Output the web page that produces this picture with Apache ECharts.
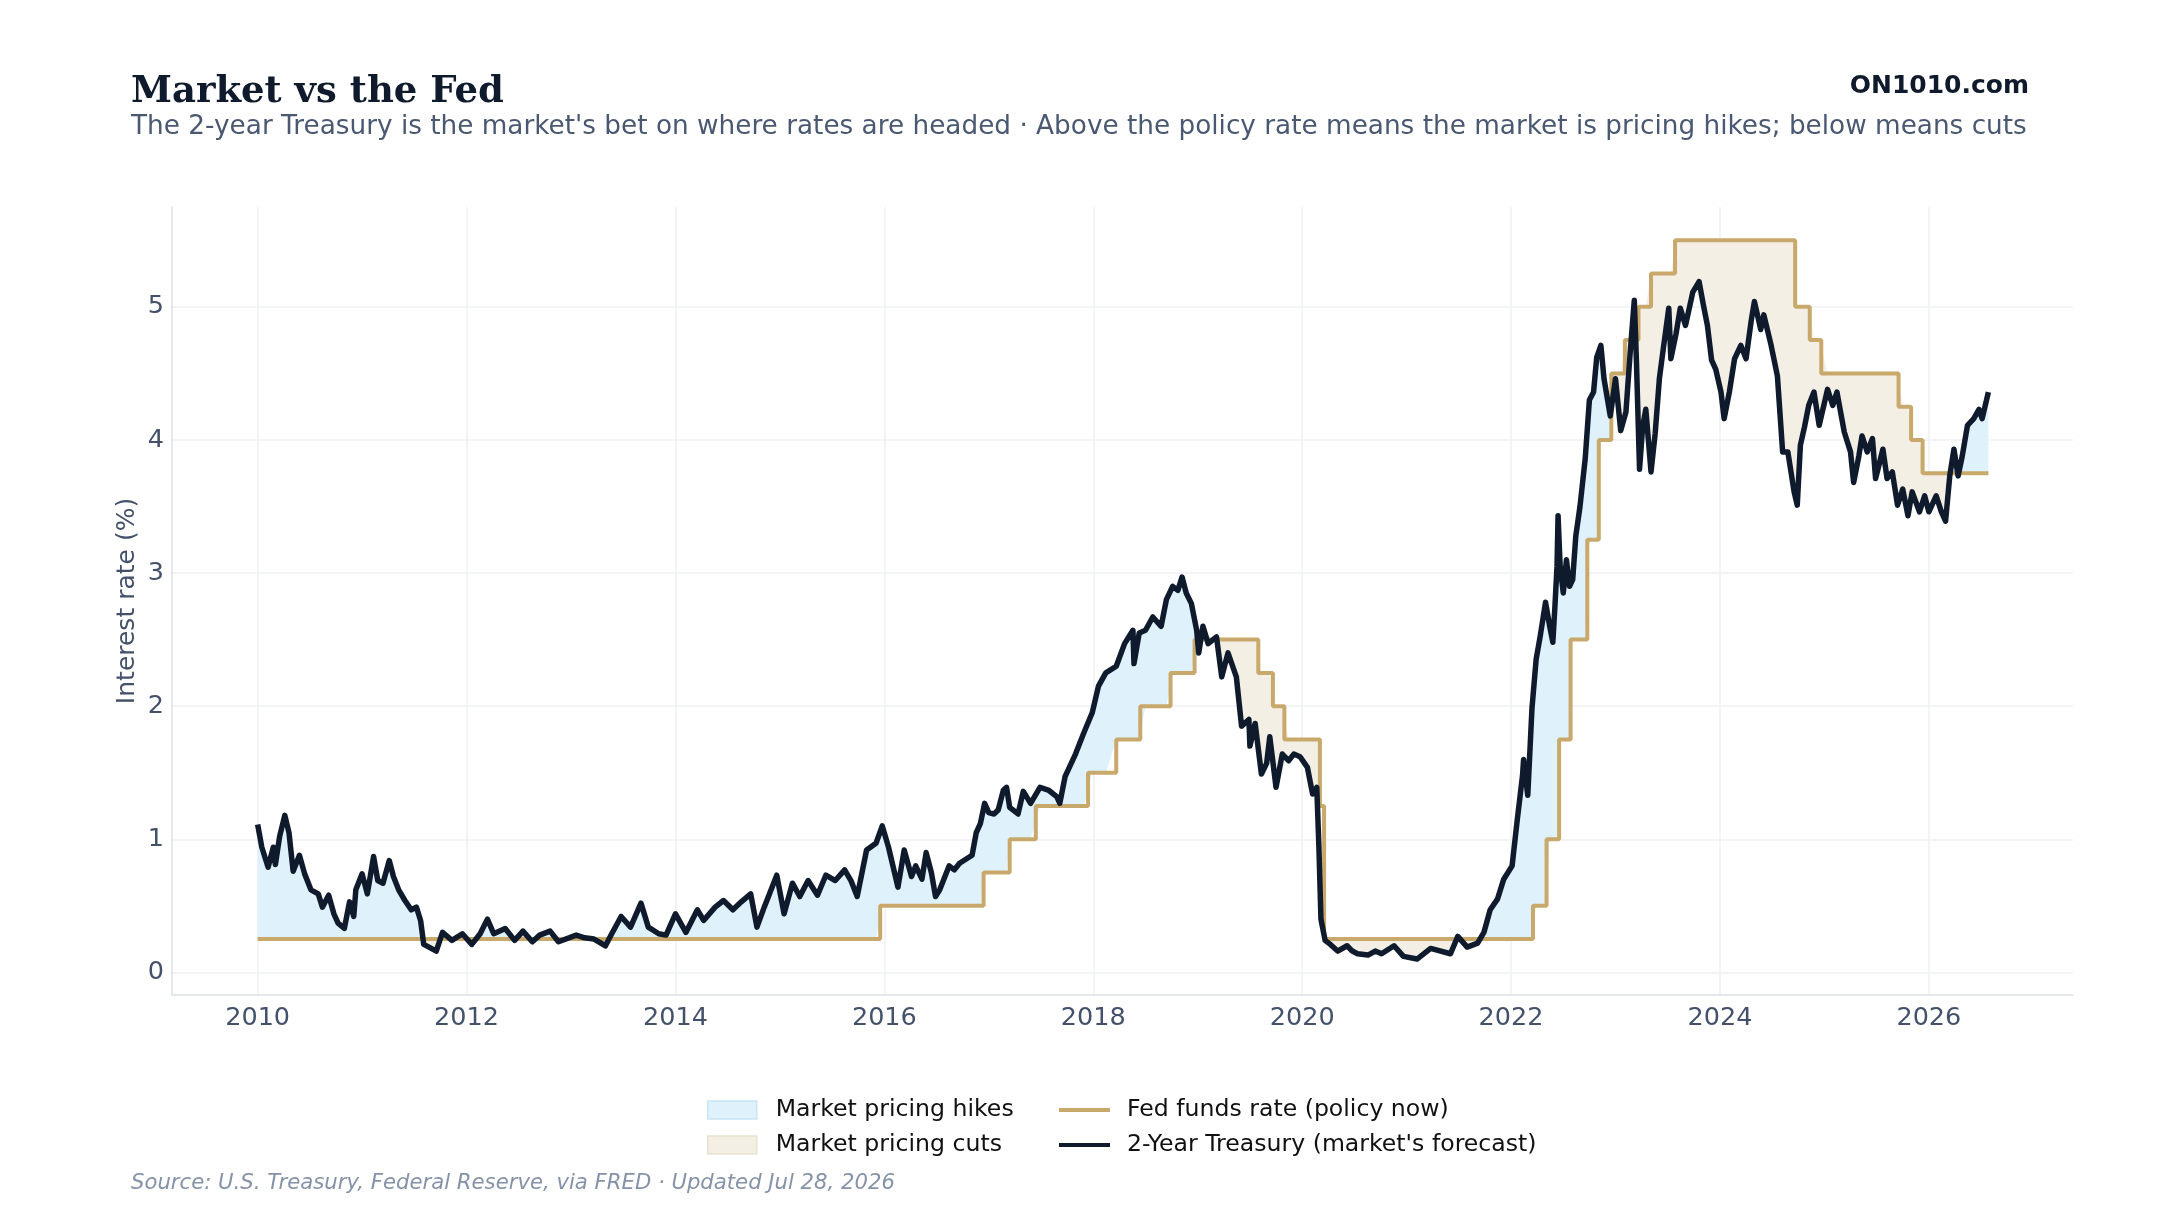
<!DOCTYPE html>
<html>
<head>
<meta charset="utf-8">
<title>Market vs the Fed</title>
<script src="https://cdn.jsdelivr.net/npm/echarts@6/dist/echarts.min.js"></script>
<style>
  html, body { margin: 0; padding: 0; background: #ffffff; }
  #chart { width: 2160px; height: 1215px; }
</style>
</head>
<body>
<div id="chart"></div>
<script>
// x values are decimal years, y values are percent
const yearTicks = [2010, 2012, 2014, 2016, 2018, 2020, 2022, 2024, 2026]
const rateTicks = [0, 1, 2, 3, 4, 5]

// fed funds target (upper bound), value holds until the next change
const fedFunds = [
  [2010.00, 0.25], [2015.96, 0.5], [2016.95, 0.75], [2017.20, 1.0], [2017.45, 1.25],
  [2017.95, 1.5], [2018.22, 1.75], [2018.45, 2.0], [2018.74, 2.25], [2018.97, 2.5],
  [2019.58, 2.25], [2019.72, 2.0], [2019.83, 1.75], [2020.17, 1.25], [2020.21, 0.25],
  [2022.21, 0.5], [2022.34, 1.0], [2022.46, 1.75], [2022.57, 2.5], [2022.73, 3.25],
  [2022.84, 4.0], [2022.96, 4.5], [2023.09, 4.75], [2023.22, 5.0], [2023.34, 5.25],
  [2023.57, 5.5], [2024.72, 5.0], [2024.86, 4.75], [2024.97, 4.5], [2025.71, 4.25],
  [2025.83, 4.0], [2025.94, 3.75], [2026.57, 3.75]
]

// 2-year treasury yield
const treasuryZirp = [
  [2010.00, 1.11], [2010.04, 0.94], [2010.10, 0.79], [2010.15, 0.94], [2010.17, 0.81],
  [2010.21, 1.02], [2010.26, 1.18], [2010.30, 1.05], [2010.34, 0.76], [2010.40, 0.88],
  [2010.45, 0.74], [2010.51, 0.62], [2010.58, 0.59], [2010.62, 0.49], [2010.68, 0.58],
  [2010.73, 0.44], [2010.77, 0.37], [2010.83, 0.33], [2010.88, 0.53], [2010.92, 0.42],
  [2010.94, 0.62], [2011.00, 0.74], [2011.05, 0.59], [2011.11, 0.87], [2011.15, 0.69],
  [2011.20, 0.67], [2011.26, 0.84], [2011.30, 0.72], [2011.35, 0.62], [2011.41, 0.54],
  [2011.47, 0.47], [2011.52, 0.49], [2011.56, 0.39], [2011.59, 0.21], [2011.64, 0.19],
  [2011.71, 0.16], [2011.77, 0.30], [2011.86, 0.24], [2011.96, 0.29], [2012.05, 0.21],
  [2012.13, 0.29], [2012.20, 0.40], [2012.26, 0.29], [2012.37, 0.33], [2012.46, 0.24],
  [2012.54, 0.31], [2012.63, 0.23], [2012.70, 0.28], [2012.80, 0.31], [2012.88, 0.23],
  [2013.05, 0.28], [2013.13, 0.26], [2013.22, 0.25], [2013.33, 0.20], [2013.39, 0.29],
  [2013.48, 0.42], [2013.57, 0.34], [2013.67, 0.52], [2013.74, 0.34], [2013.84, 0.29],
  [2013.91, 0.28], [2014.00, 0.44], [2014.10, 0.30], [2014.21, 0.47], [2014.27, 0.39],
  [2014.38, 0.49], [2014.46, 0.54], [2014.55, 0.47], [2014.63, 0.53], [2014.72, 0.59],
  [2014.78, 0.34], [2014.85, 0.49], [2014.97, 0.73], [2015.04, 0.44], [2015.12, 0.67],
  [2015.19, 0.57], [2015.27, 0.69], [2015.36, 0.58], [2015.44, 0.73], [2015.53, 0.69],
  [2015.62, 0.77], [2015.68, 0.69], [2015.74, 0.57], [2015.83, 0.92], [2015.92, 0.97],
  [2015.98, 1.10]
]

const treasuryHikes = [
  [2016.04, 0.94], [2016.13, 0.64], [2016.19, 0.92], [2016.26, 0.72], [2016.30, 0.80],
  [2016.36, 0.70], [2016.40, 0.90], [2016.45, 0.75], [2016.49, 0.57], [2016.53, 0.62],
  [2016.58, 0.72], [2016.62, 0.80], [2016.67, 0.77], [2016.72, 0.82], [2016.78, 0.85],
  [2016.84, 0.88], [2016.88, 1.05], [2016.92, 1.12], [2016.96, 1.27], [2017.00, 1.20],
  [2017.05, 1.19], [2017.09, 1.22], [2017.14, 1.37], [2017.17, 1.39], [2017.20, 1.24],
  [2017.28, 1.19], [2017.33, 1.36], [2017.40, 1.27], [2017.49, 1.39], [2017.57, 1.37],
  [2017.65, 1.32], [2017.68, 1.27], [2017.73, 1.47], [2017.83, 1.64], [2017.91, 1.80],
  [2017.99, 1.95], [2018.05, 2.15], [2018.12, 2.25], [2018.22, 2.30], [2018.30, 2.47],
  [2018.38, 2.57], [2018.39, 2.32], [2018.44, 2.55], [2018.50, 2.57], [2018.57, 2.67],
  [2018.65, 2.60], [2018.70, 2.80], [2018.76, 2.90], [2018.81, 2.87], [2018.85, 2.97],
  [2018.89, 2.85], [2018.94, 2.77], [2018.99, 2.57], [2019.01, 2.40], [2019.05, 2.60],
  [2019.10, 2.47], [2019.18, 2.52], [2019.23, 2.22], [2019.29, 2.40], [2019.37, 2.22],
  [2019.42, 1.85], [2019.49, 1.90], [2019.50, 1.70], [2019.55, 1.87], [2019.61, 1.49],
  [2019.66, 1.57], [2019.69, 1.77], [2019.75, 1.39], [2019.81, 1.64], [2019.87, 1.59],
  [2019.92, 1.64], [2019.98, 1.62]
]

const treasuryCovid = [
  [2020.05, 1.54], [2020.10, 1.34], [2020.14, 1.39], [2020.16, 0.95], [2020.18, 0.40],
  [2020.22, 0.24], [2020.27, 0.21], [2020.34, 0.16], [2020.43, 0.20], [2020.48, 0.16],
  [2020.53, 0.14], [2020.63, 0.13], [2020.70, 0.16], [2020.76, 0.14], [2020.88, 0.20],
  [2020.97, 0.12], [2021.10, 0.10], [2021.23, 0.18], [2021.42, 0.14], [2021.49, 0.27],
  [2021.58, 0.19], [2021.68, 0.22], [2021.74, 0.30], [2021.80, 0.47], [2021.87, 0.55],
  [2021.93, 0.70]
]

const treasuryRecent = [
  [2022.01, 0.80], [2022.06, 1.15], [2022.11, 1.48], [2022.12, 1.60], [2022.16, 1.33],
  [2022.20, 1.98], [2022.24, 2.35], [2022.28, 2.53], [2022.33, 2.78], [2022.37, 2.60],
  [2022.40, 2.48], [2022.42, 2.75], [2022.44, 3.05], [2022.45, 3.43], [2022.47, 3.05],
  [2022.50, 2.85], [2022.53, 3.10], [2022.56, 2.90], [2022.59, 2.95], [2022.62, 3.28],
  [2022.66, 3.50], [2022.71, 3.86], [2022.75, 4.30], [2022.79, 4.36], [2022.82, 4.62],
  [2022.86, 4.71], [2022.89, 4.46], [2022.95, 4.18], [2023.00, 4.46], [2023.05, 4.07],
  [2023.10, 4.21], [2023.14, 4.65], [2023.18, 5.05], [2023.20, 4.60], [2023.23, 3.78],
  [2023.26, 4.10], [2023.29, 4.23], [2023.34, 3.76], [2023.38, 4.05], [2023.42, 4.46],
  [2023.46, 4.70], [2023.51, 4.99], [2023.53, 4.61], [2023.58, 4.80], [2023.62, 4.99],
  [2023.67, 4.86], [2023.74, 5.11], [2023.80, 5.19], [2023.84, 5.02], [2023.88, 4.86],
  [2023.92, 4.60], [2023.96, 4.53], [2024.01, 4.36], [2024.04, 4.16], [2024.09, 4.36],
  [2024.14, 4.61], [2024.20, 4.71], [2024.25, 4.61], [2024.30, 4.90], [2024.33, 5.04],
  [2024.39, 4.83], [2024.42, 4.94], [2024.49, 4.71], [2024.55, 4.48], [2024.60, 3.91],
  [2024.65, 3.91], [2024.71, 3.61], [2024.74, 3.51], [2024.77, 3.96], [2024.81, 4.10],
  [2024.85, 4.26], [2024.90, 4.36], [2024.95, 4.11], [2025.03, 4.38], [2025.08, 4.26],
  [2025.12, 4.36], [2025.19, 4.06], [2025.25, 3.91], [2025.28, 3.68], [2025.33, 3.88],
  [2025.36, 4.03], [2025.41, 3.91], [2025.46, 4.01], [2025.49, 3.71], [2025.56, 3.93],
  [2025.60, 3.71], [2025.65, 3.76], [2025.70, 3.51], [2025.75, 3.63], [2025.80, 3.43],
  [2025.84, 3.61], [2025.91, 3.46], [2025.96, 3.58], [2026.00, 3.46], [2026.07, 3.58],
  [2026.12, 3.46], [2026.16, 3.39], [2026.20, 3.73], [2026.24, 3.93], [2026.28, 3.73],
  [2026.32, 3.88], [2026.37, 4.11], [2026.43, 4.16], [2026.48, 4.23], [2026.51, 4.16],
  [2026.57, 4.36]
]

const treasury = [...treasuryZirp, ...treasuryHikes, ...treasuryCovid, ...treasuryRecent]

const ink = '#0f1b2d'
const slate = '#44516a'
const fedColor = '#c8a96b'
const hikeFill = '#dff1fb'
const cutFill = '#f3efe4'

function fedAt(year) {
  let rate = fedFunds[0][1]
  for (const [x, r] of fedFunds) {
    if (x > year) break
    rate = r
  }
  return rate
}

// stacked bands: base = lower of the two lines, then the gap on top.
// rate goes first so echarts stacks the rate and not the year
const gapBase = treasury.map(([x, t]) => [Math.min(t, fedAt(x)), x])
const gapHikes = treasury.map(([x, t]) => [Math.max(t - fedAt(x), 0), x])
const gapCuts = treasury.map(([x, t]) => [Math.max(fedAt(x) - t, 0), x])

const chart = echarts.init(document.getElementById('chart'))

function textEl(text, x, y, font, fill, align, extra) {
  return Object.assign({
    type: 'text',
    x,
    y,
    silent: true,
    style: {
      text,
      font,
      fill,
      align,
      textAlign: align,
      verticalAlign: 'middle',
      textVerticalAlign: 'middle'
    }
  }, extra || {})
}

function bandSeries(name, data, color) {
  return {
    name,
    type: 'line',
    stack: 'gap',
    data,
    encode: { x: 1, y: 0 },
    symbol: 'none',
    silent: true,
    itemStyle: { color: color || '#ffffff' },
    lineStyle: { width: 0, opacity: 0 },
    areaStyle: color ? { color, opacity: 1 } : undefined
  }
}

chart.setOption({
  animation: false,
  backgroundColor: '#ffffff',
  textStyle: { fontFamily: 'DejaVu Sans' },
  grid: { left: 172, right: 87, top: 207, bottom: 220 },
  xAxis: {
    type: 'value',
    min: 2009.18,
    max: 2027.38,
    axisLine: { show: true, onZero: false, lineStyle: { color: '#dde1e7', width: 1.5 } },
    axisTick: { show: false, customValues: yearTicks },
    axisLabel: {
      customValues: yearTicks,
      formatter: (value) => String(value),
      color: slate,
      fontSize: 25.5,
      margin: 10
    },
    splitLine: { show: true, lineStyle: { color: '#eef0f3', width: 1.5 } }
  },
  yAxis: {
    type: 'value',
    min: -0.17,
    max: 5.75,
    axisLine: { show: true, onZero: false, lineStyle: { color: '#dde1e7', width: 1.5 } },
    axisTick: { show: false, customValues: rateTicks },
    axisLabel: {
      customValues: rateTicks,
      color: slate,
      fontSize: 25.5,
      margin: 8,
      padding: [7, 0, 0, 0]
    },
    splitLine: { show: true, lineStyle: { color: '#eef0f3', width: 1.5 } }
  },
  legend: [
    {
      orient: 'vertical',
      left: 707,
      top: 1098,
      padding: 0,
      itemGap: 11,
      itemWidth: 49,
      itemHeight: 18,
      selectedMode: false,
      textStyle: { fontSize: 23.6, color: '#111111', padding: [0, 0, 0, 14] },
      data: [
        { name: 'Market pricing hikes', icon: 'rect', itemStyle: { color: hikeFill, borderColor: '#c8e6f6', borderWidth: 1.5 } },
        { name: 'Market pricing cuts', icon: 'rect', itemStyle: { color: cutFill, borderColor: '#e9e2d0', borderWidth: 1.5 } }
      ]
    },
    {
      orient: 'vertical',
      left: 1059,
      top: 1098,
      padding: 0,
      itemGap: 11,
      itemWidth: 51,
      itemHeight: 4,
      selectedMode: false,
      textStyle: { fontSize: 23.6, color: '#111111', padding: [0, 0, 0, 12] },
      data: [
        { name: 'Fed funds rate (policy now)', icon: 'rect', itemStyle: { color: fedColor, borderWidth: 0 } },
        { name: "2-Year Treasury (market's forecast)", icon: 'rect', itemStyle: { color: ink, borderWidth: 0 } }
      ]
    }
  ],
  graphic: [
    textEl('Market vs the Fed', 131, 92, 'bold 37px "DejaVu Serif"', ink, 'left'),
    textEl("The 2-year Treasury is the market's bet on where rates are headed · Above the policy rate means the market is pricing hikes; below means cuts",
      131, 127, '26.3px "DejaVu Sans"', '#4a5872', 'left'),
    textEl('ON1010.com', 2029, 86, 'bold 25px "DejaVu Sans"', ink, 'right'),
    textEl('Interest rate (%)', 127, 601, '25px "DejaVu Sans"', slate, 'center', { rotation: Math.PI / 2 }),
    textEl('Source: U.S. Treasury, Federal Reserve, via FRED · Updated Jul 28, 2026',
      131, 1183, 'italic 21.2px "DejaVu Sans"', '#8592a8', 'left')
  ],
  series: [
    bandSeries('gap base', gapBase, null),
    bandSeries('Market pricing hikes', gapHikes, hikeFill),
    bandSeries('Market pricing cuts', gapCuts, cutFill),
    {
      name: 'Fed funds rate (policy now)',
      type: 'line',
      step: 'end',
      data: fedFunds,
      symbol: 'none',
      itemStyle: { color: fedColor },
      lineStyle: { color: fedColor, width: 4 }
    },
    {
      name: "2-Year Treasury (market's forecast)",
      type: 'line',
      data: treasury,
      symbol: 'none',
      itemStyle: { color: ink },
      lineStyle: { color: ink, width: 5.5, join: 'round' }
    }
  ]
})
</script>
</body>
</html>
